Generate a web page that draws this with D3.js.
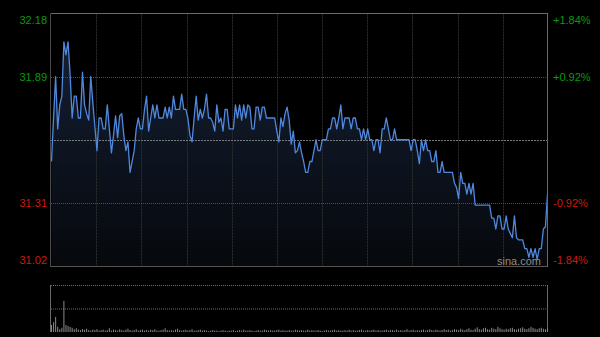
<!DOCTYPE html>
<html><head><meta charset="utf-8">
<script src="https://cdn.jsdelivr.net/npm/d3@7/dist/d3.min.js"></script>
<style>html,body{margin:0;padding:0;background:#000;}svg{display:block;}</style>
</head><body>
<script>
// ---- data ----
const prevClose = 31.60;
const priceTicks = [32.18, 31.89, 31.31, 31.02];
const pctLabels = ["+1.84%", "+0.92%", "-0.92%", "-1.84%"];
const prices = [
31.50,31.70,31.89,31.65,31.76,31.80,32.05,31.99,32.05,31.90,
31.70,31.80,31.80,31.70,31.70,31.91,31.76,31.72,31.69,31.89,
31.77,31.66,31.55,31.70,31.70,31.65,31.65,31.76,31.65,31.54,
31.62,31.71,31.61,31.71,31.72,31.62,31.55,31.59,31.45,31.50,
31.55,31.65,31.70,31.65,31.65,31.74,31.80,31.64,31.70,31.76,
31.70,31.76,31.70,31.70,31.70,31.75,31.70,31.75,31.70,31.80,
31.74,31.74,31.74,31.81,31.74,31.74,31.70,31.62,31.59,31.70,
31.80,31.69,31.74,31.70,31.74,31.81,31.70,31.70,31.68,31.64,
31.76,31.68,31.70,31.64,31.74,31.74,31.65,31.65,31.65,31.76,
31.70,31.76,31.69,31.76,31.70,31.76,31.75,31.65,31.65,31.75,
31.75,31.69,31.75,31.75,31.70,31.70,31.70,31.70,31.70,31.64,
31.59,31.70,31.66,31.72,31.75,31.69,31.58,31.64,31.54,31.55,
31.59,31.54,31.50,31.45,31.45,31.50,31.50,31.55,31.60,31.55,
31.55,31.60,31.60,31.60,31.65,31.65,31.70,31.70,31.65,31.70,
31.76,31.65,31.70,31.70,31.70,31.65,31.70,31.70,31.65,31.65,
31.60,31.65,31.60,31.65,31.60,31.60,31.55,31.60,31.60,31.54,
31.65,31.65,31.70,31.65,31.60,31.60,31.65,31.60,31.60,31.60,
31.60,31.60,31.60,31.60,31.55,31.60,31.60,31.55,31.49,31.60,
31.55,31.60,31.55,31.55,31.50,31.50,31.55,31.45,31.45,31.50,
31.45,31.45,31.45,31.45,31.45,31.40,31.38,31.33,31.45,31.40,
31.40,31.35,31.40,31.35,31.40,31.30,31.30,31.30,31.30,31.30,
31.30,31.30,31.30,31.24,31.24,31.19,31.25,31.25,31.19,31.19,
31.25,31.19,31.17,31.15,31.25,31.15,31.14,31.14,31.14,31.10,
31.10,31.06,31.10,31.06,31.10,31.05,31.10,31.10,31.19,31.20,
31.35];
const volumes = [
15,21,32,11,6,9,66,15,13,11,9,6,8,5,4,6,5,7,4,3,
5,4,6,3,4,5,3,4,8,3,5,4,3,6,4,3,5,7,4,3,
4,6,3,4,5,3,4,3,5,4,6,3,3,4,5,8,4,3,4,3,
5,7,4,3,4,5,3,4,6,3,3,4,5,3,4,3,2,3,4,3,
3,2,3,4,3,2,3,3,4,2,3,4,3,5,3,3,4,3,2,3,
4,3,3,5,4,3,4,3,3,4,5,3,4,3,3,4,3,3,5,4,
3,4,3,3,5,3,4,3,3,4,3,2,3,4,3,3,4,5,3,4,
3,3,4,3,5,3,4,3,3,4,5,3,3,4,3,4,5,3,4,3,
3,4,5,3,4,4,3,5,3,4,3,4,6,3,4,5,3,4,3,4,
5,3,4,6,4,3,5,4,3,4,6,4,5,3,4,6,5,4,7,5,
4,6,8,5,4,7,10,6,5,8,9,6,5,9,7,6,11,8,6,5,
7,6,8,9,6,5,7,8,10,7,6,8,11,9,7,6,8,9,7,6,
8];
const nGridCols = 11;

// ---- layout ----
const W = 600, H = 337;
const L = 51, R = 548, T = 13.5, B = 266;
const VT = 285, VB = 332;

const svg = d3.select("body").append("svg").attr("width", W).attr("height", H)
  .style("background", "#000");

const x = d3.scaleLinear().domain([0, prices.length - 1]).range([L + 0.5, R - 0.5]);
const y = d3.scaleLinear().domain([priceTicks[3], priceTicks[0]]).range([B, T]);
const xg = d3.scaleLinear().domain([0, nGridCols]).range([L, R]);
const yv = d3.scaleLinear().domain([0, 100]).range([VB, VT]);

const defs = svg.append("defs");
const grad = defs.append("linearGradient").attr("id", "fillg")
  .attr("gradientUnits", "userSpaceOnUse")
  .attr("x1", 0).attr("y1", T).attr("x2", 0).attr("y2", B);
grad.append("stop").attr("offset", "0%").attr("stop-color", "#162238");
grad.append("stop").attr("offset", "100%").attr("stop-color", "#06080c");

// area
svg.append("path").datum(prices)
  .attr("d", d3.area().x((d, i) => x(i)).y0(B).y1(d => y(d)))
  .attr("fill", "url(#fillg)");

// vertical grid
svg.append("g").selectAll("line").data(d3.range(1, nGridCols))
  .join("line")
  .attr("x1", d => Math.round(xg(d)) + 0.5).attr("x2", d => Math.round(xg(d)) + 0.5)
  .attr("y1", T).attr("y2", B)
  .attr("stroke", "#2e2e2e").attr("stroke-width", 1).attr("stroke-dasharray", "2,1");

// horizontal grid
svg.append("g").selectAll("line").data([priceTicks[1], priceTicks[2]])
  .join("line")
  .attr("x1", L).attr("x2", R)
  .attr("y1", d => Math.round(y(d)) + 0.5).attr("y2", d => Math.round(y(d)) + 0.5)
  .attr("stroke", "#505050").attr("stroke-dasharray", "1,1");
svg.append("line")
  .attr("x1", L).attr("x2", R)
  .attr("y1", Math.round(y(prevClose)) + 0.5).attr("y2", Math.round(y(prevClose)) + 0.5)
  .attr("stroke", "#7a7a7a").attr("stroke-dasharray", "2,1");

// price line
svg.append("path").datum(prices)
  .attr("d", d3.line().x((d, i) => x(i)).y(d => y(d)))
  .attr("fill", "none").attr("stroke", "#4f88de").attr("stroke-width", 1.3)
  .attr("stroke-linejoin", "round");

// frame
svg.append("line").attr("x1", L).attr("x2", R).attr("y1", T).attr("y2", T).attr("stroke", "#6a6a6a");
svg.append("line").attr("x1", L).attr("x2", R).attr("y1", B + 0.5).attr("y2", B + 0.5).attr("stroke", "#555");
svg.append("line").attr("x1", L - 0.5).attr("x2", L - 0.5).attr("y1", T).attr("y2", B + 1).attr("stroke", "#4a4a4a");
svg.append("line").attr("x1", R - 0.5).attr("x2", R - 0.5).attr("y1", T).attr("y2", B + 1).attr("stroke", "#6a6a6a");

// axes labels
const colorFor = (i) => i < 2 ? "#0b9a0b" : "#cc1a0a";
const leftAxis = d3.axisLeft(y).tickValues(priceTicks).tickSize(0).tickPadding(4)
  .tickFormat(d3.format(".2f"));
const gl = svg.append("g").attr("transform", `translate(${L},0)`).call(leftAxis);
gl.select(".domain").remove();
gl.selectAll("text").attr("font-family", "Liberation Sans, Arial, sans-serif")
  .attr("font-size", 11).attr("fill", (d, i) => colorFor(i))
  .attr("dy", (d, i) => i === 0 ? "0.95em" : (i === 3 ? "-0.2em" : "0.32em"));

const rightAxis = d3.axisRight(y).tickValues(priceTicks).tickSize(0).tickPadding(5)
  .tickFormat((d, i) => pctLabels[i]);
const gr = svg.append("g").attr("transform", `translate(${R},0)`).call(rightAxis);
gr.select(".domain").remove();
gr.selectAll("text").attr("font-family", "Liberation Sans, Arial, sans-serif")
  .attr("font-size", 11).attr("fill", (d, i) => colorFor(i))
  .attr("dy", (d, i) => i === 0 ? "0.95em" : (i === 3 ? "-0.2em" : "0.32em"));

// watermark
svg.append("text").attr("x", 519).attr("y", 265).attr("text-anchor", "middle")
  .attr("font-family", "Liberation Sans, Arial, sans-serif").attr("font-size", 11)
  .attr("fill", "#8c8c8c").text("sina.com");

// volume panel
svg.append("line").attr("x1", L).attr("x2", R).attr("y1", VT + 0.5).attr("y2", VT + 0.5)
  .attr("stroke", "#6a6a6a").attr("stroke-dasharray", "1,1");
svg.append("line").attr("x1", L).attr("x2", R).attr("y1", yv(50) + 0.5).attr("y2", yv(50) + 0.5)
  .attr("stroke", "#6a6a6a").attr("stroke-dasharray", "1,1");
svg.append("line").attr("x1", L - 0.5).attr("x2", L - 0.5).attr("y1", VT).attr("y2", VB)
  .attr("stroke", "#6a6a6a");
svg.append("line").attr("x1", R - 0.5).attr("x2", R - 0.5).attr("y1", VT).attr("y2", VB)
  .attr("stroke", "#6a6a6a");
svg.append("g").selectAll("rect").data(volumes).join("rect")
  .attr("x", (d, i) => x(i) - 0.5).attr("width", 1)
  .attr("y", d => yv(d)).attr("height", d => VB - yv(d))
  .attr("fill", "#8a8a8a");
</script>
</body></html>
